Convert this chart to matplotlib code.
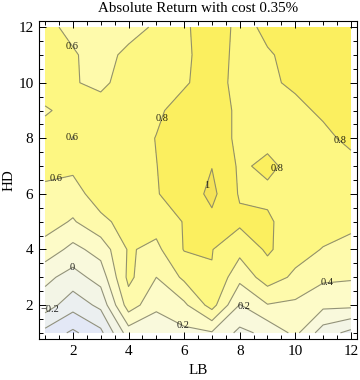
import numpy as np
import matplotlib
matplotlib.use('Agg')
import matplotlib.pyplot as plt
from matplotlib.ticker import MultipleLocator, FixedLocator

plt.rcParams['font.family'] = ['Liberation Serif', 'DejaVu Serif']

# grid axes
lb = [1, 2, 3, 4, 5, 6, 7, 8, 9, 10, 11, 12]
hd = [1, 2, 3, 4, 5, 6, 7, 8, 9, 10, 11, 12]

# absolute return, one row per HD value (columns LB = 1..12)
ret_hd1 = [-0.46, -0.64, -0.45, 0.10, 0.01, 0.15, 0.18, -0.05, 0.05, 0.25, -0.10, -0.26]
ret_hd2 = [-0.10, -0.32, -0.15, 0.50, 0.26, 0.36, 0.68, 0.19, 0.39, 0.36, 0.25, 0.25]
ret_hd3 = [0.05, -0.08, 0.08, 0.65, 0.40, 0.64, 0.79, 0.46, 0.70, 0.56, 0.44, 0.42]
ret_hd4 = [0.32, 0.14, 0.28, 0.62, 0.55, 0.81, 0.806, 0.66, 0.83, 0.68, 0.59, 0.56]
ret_hd5 = [0.49, 0.38, 0.55, 0.68, 0.68, 0.81, 0.95, 0.84, 0.83, 0.70, 0.69, 0.63]
ret_hd6 = [0.56, 0.52, 0.70, 0.70, 0.79, 0.88, 1.05, 0.78, 0.76, 0.72, 0.71, 0.72]
ret_hd7 = [0.65, 0.64, 0.66, 0.70, 0.797, 0.88, 0.995, 0.77, 0.84, 0.74, 0.74, 0.76]
ret_hd8 = [0.64, 0.598, 0.65, 0.72, 0.805, 0.88, 0.90, 0.76, 0.75, 0.74, 0.77, 0.83]
ret_hd9 = [0.59, 0.63, 0.66, 0.68, 0.77, 0.87, 0.90, 0.76, 0.75, 0.77, 0.82, 0.88]
ret_hd10 = [0.65, 0.61, 0.57, 0.66, 0.70, 0.78, 0.88, 0.74, 0.78, 0.82, 0.88, 0.90]
ret_hd11 = [0.66, 0.62, 0.52, 0.65, 0.68, 0.76, 0.90, 0.74, 0.78, 0.86, 0.90, 0.90]
ret_hd12 = [0.65, 0.55, 0.50, 0.52, 0.63, 0.75, 0.97, 0.72, 0.85, 0.90, 0.92, 0.90]

levels = [-0.8, -0.6, -0.4, -0.2, 0.0, 0.2, 0.4, 0.6, 0.8, 1.0, 1.2]
band_colors = ['#dde3f8', '#e3e8f6', '#ebeff0', '#f3f5e6', '#f9f9dc',
               '#fdfbc8', '#fefaab', '#fdf782', '#fbef5f', '#f5e357']

# where the contour labels sit
label_spots = [(1.96, 11.3), (5.34, 8.66), (1.96, 8.06), (1.42, 6.5),
               (6.53, 6.41), (9.28, 6.95), (11.63, 7.94), (1.99, 3.33),
               (1.24, 1.73), (5.96, 1.23), (8.17, 1.95), (11.15, 2.79)]

z = np.array([ret_hd1, ret_hd2, ret_hd3, ret_hd4, ret_hd5, ret_hd6,
              ret_hd7, ret_hd8, ret_hd9, ret_hd10, ret_hd11, ret_hd12])

fig = plt.figure(figsize=(3.6, 3.8), dpi=100)
ax = fig.add_axes([39 / 360, 1 - 339 / 380, 318 / 360, 318 / 380])

ax.contourf(lb, hd, z, levels=levels, colors=band_colors)
cs = ax.contour(lb, hd, z, levels=levels, colors='#80806a', linewidths=0.8,
                alpha=0.85, linestyles='solid')


def fmt(v):
    return f"{v:g}".replace('-', '\u2212')


texts = ax.clabel(cs, levels=levels, inline=False, fontsize=7.5, fmt=fmt,
                  colors='black', manual=label_spots)
for t in texts:
    t.set_rotation(0)

ax.set_xlim(0.78, 12.22)
ax.set_ylim(0.78, 12.22)
ax.xaxis.set_major_locator(FixedLocator([2, 4, 6, 8, 10, 12]))
ax.yaxis.set_major_locator(FixedLocator([2, 4, 6, 8, 10, 12]))
ax.xaxis.set_minor_locator(MultipleLocator(0.5))
ax.yaxis.set_minor_locator(MultipleLocator(0.5))
ax.tick_params(which='both', direction='in', top=True, right=True, labelsize=11, width=0.7)
ax.tick_params(which='major', length=5, pad=4)
ax.tick_params(which='minor', length=3)
for s in ax.spines.values():
    s.set_linewidth(0.8)

ax.set_xlabel('LB', fontsize=10.8, labelpad=5)
ax.set_ylabel('HD', fontsize=10.8)
ax.yaxis.set_label_coords(-23 / 318, 0.5)
fig.text(198 / 360, 1 - 9 / 380, 'Absolute Return with cost 0.35%', ha='center', va='center', fontsize=10.8)

fig.savefig('out.png', dpi=100)
